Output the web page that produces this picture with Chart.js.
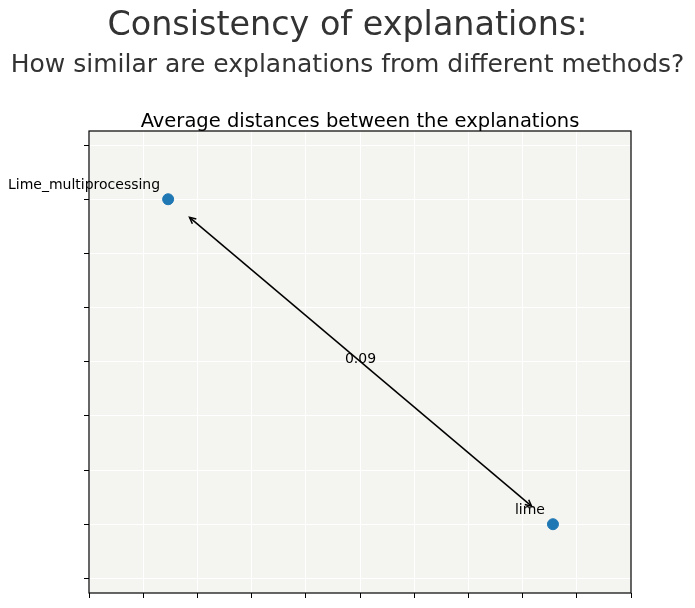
<!DOCTYPE html>
<html>
<head>
<meta charset="utf-8">
<script src="https://cdn.jsdelivr.net/npm/chart.js@4"></script>
<style>
  html, body { margin: 0; padding: 0; background: #fff; }
  #wrap { width: 695px; height: 608px; position: relative; }
</style>
</head>
<body>
<div id="wrap"><canvas id="grafico" width="695" height="608"></canvas></div>
<script>
// explanation methods and their 2D positions
const metodos = ["Lime_multiprocessing", "lime"];
const posX = [1.46, 8.56];
const posY = [7.0, 1.0];
// pairs of methods with their average distance
const pares = [[0, 1]];
const distancias = ["0.09"];

const tituloPrincipal = "Consistency of explanations:";
const subtitulo = "How similar are explanations from different methods?";
const tituloGrafico = "Average distances between the explanations";

const fonte = "'DejaVu Sans', sans-serif";

const fundoPlugin = {
  id: "fundo",
  beforeDraw(chart) {
    const { ctx, chartArea: a } = chart;
    ctx.save();
    ctx.fillStyle = "#f4f4f0";
    ctx.fillRect(a.left, a.top, a.right - a.left, a.bottom - a.top);
    ctx.restore();
  },
  afterDraw(chart) {
    const { ctx, chartArea: a, scales } = chart;
    ctx.save();
    // spines
    ctx.strokeStyle = "#000";
    ctx.lineWidth = 1.2;
    ctx.strokeRect(a.left, a.top, a.right - a.left, a.bottom - a.top);

    // arrows between points
    pares.forEach((p, k) => {
      const x1 = scales.x.getPixelForValue(posX[p[0]]);
      const y1 = scales.y.getPixelForValue(posY[p[0]]);
      const x2 = scales.x.getPixelForValue(posX[p[1]]);
      const y2 = scales.y.getPixelForValue(posY[p[1]]);
      const dx = x2 - x1, dy = y2 - y1;
      const len = Math.sqrt(dx * dx + dy * dy);
      const ux = dx / len, uy = dy / len;
      const encolhe = 28;
      const ax = x1 + ux * encolhe, ay = y1 + uy * encolhe;
      const bx = x2 - ux * encolhe, by = y2 - uy * encolhe;
      ctx.strokeStyle = "#000";
      ctx.lineWidth = 1.5;
      ctx.beginPath();
      ctx.moveTo(ax, ay);
      ctx.lineTo(bx, by);
      ctx.stroke();
      const cab = (tx, ty, vx, vy) => {
        const ang = Math.atan2(vy, vx);
        const h = 7, w = 0.45;
        ctx.beginPath();
        ctx.moveTo(tx - h * Math.cos(ang - w), ty - h * Math.sin(ang - w));
        ctx.lineTo(tx, ty);
        ctx.lineTo(tx - h * Math.cos(ang + w), ty - h * Math.sin(ang + w));
        ctx.stroke();
      };
      cab(bx, by, ux, uy);
      cab(ax, ay, -ux, -uy);
      ctx.fillStyle = "#000";
      ctx.font = "14px " + fonte;
      ctx.textAlign = "center";
      ctx.textBaseline = "middle";
      ctx.fillText(distancias[k], (x1 + x2) / 2, (y1 + y2) / 2 - 2);
    });

    // point labels
    ctx.fillStyle = "#000";
    ctx.font = "14px " + fonte;
    ctx.textAlign = "right";
    ctx.textBaseline = "middle";
    metodos.forEach((m, i) => {
      const px = scales.x.getPixelForValue(posX[i]);
      const py = scales.y.getPixelForValue(posY[i]);
      ctx.fillText(m, px - 8, py - 14);
    });

    // titles
    ctx.fillStyle = "#333";
    ctx.textAlign = "center";
    ctx.textBaseline = "middle";
    ctx.font = "33.4px " + fonte;
    ctx.fillText(tituloPrincipal, chart.width / 2, 26);
    ctx.font = "25px " + fonte;
    ctx.fillText(subtitulo, chart.width / 2, 65);
    ctx.fillStyle = "#000";
    ctx.font = "19.5px " + fonte;
    ctx.fillText(tituloGrafico, (a.left + a.right) / 2, 122);
    ctx.restore();
  }
};

const inteiros = (min, max) => (scale) => {
  scale.ticks = [];
  for (let v = min; v <= max; v++) scale.ticks.push({ value: v });
};

new Chart(document.getElementById("grafico").getContext("2d"), {
  type: "scatter",
  data: {
    datasets: [{
      data: posX.map((x, i) => ({ x: x, y: posY[i] })),
      backgroundColor: "#1f77b4",
      borderColor: "#1f77b4",
      pointRadius: 5.5,
      pointHoverRadius: 5.5
    }]
  },
  options: {
    responsive: false,
    animation: false,
    events: [],
    layout: { padding: { left: 84, right: 64, top: 131, bottom: 10 } },
    scales: {
      x: {
        type: "linear",
        min: 0,
        max: 10,
        afterBuildTicks: inteiros(0, 10),
        ticks: { display: false },
        grid: { color: "#fff", lineWidth: 1, tickColor: "#000", tickLength: 5 },
        border: { display: false }
      },
      y: {
        type: "linear",
        min: -0.27,
        max: 8.26,
        afterBuildTicks: inteiros(0, 8),
        ticks: { display: false },
        grid: { color: "#fff", lineWidth: 1, tickColor: "#000", tickLength: 5 },
        border: { display: false }
      }
    },
    plugins: {
      legend: { display: false },
      tooltip: { enabled: false }
    }
  },
  plugins: [fundoPlugin]
});
</script>
</body>
</html>
